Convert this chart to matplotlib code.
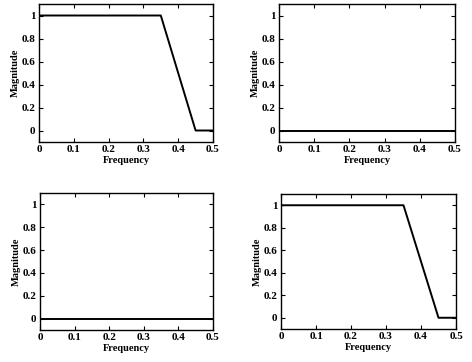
import matplotlib
matplotlib.use("Agg")
import matplotlib.pyplot as plt

# filter response panels: frequency breakpoints and magnitudes
freq = [0.0, 0.35, 0.45, 0.5]
mag_lowpass = [1.0, 1.0, 0.0, 0.0]
mag_zero = [0.0, 0.0, 0.0, 0.0]
panels = [mag_lowpass, mag_zero, mag_zero, mag_lowpass]

xticks = [0, 0.1, 0.2, 0.3, 0.4, 0.5]
xticklabels = ["0", "0.1", "0.2", "0.3", "0.4", "0.5"]
yticks = [0, 0.2, 0.4, 0.6, 0.8, 1]
yticklabels = ["0", "0.2", "0.4", "0.6", "0.8", "1"]

plt.rcParams["font.family"] = ["Liberation Serif", "DejaVu Serif"]
plt.rcParams["font.weight"] = "bold"

W, H = 472, 362
fig = plt.figure(figsize=(W / 100, H / 100), dpi=100)

# axes boxes in pixels: left, top, right, bottom
boxes = [(39, 4, 213, 142), (279, 4, 455, 142),
         (40, 193, 213, 330), (281, 194, 456, 329)]

for (l, t, r, b), mag in zip(boxes, panels):
    ax = fig.add_axes([l / W, 1 - b / H, (r - l) / W, (b - t) / H])
    ax.plot(freq, mag, color="black", linewidth=1.4)
    ax.set_xlim(0, 0.5)
    ax.set_ylim(-0.1, 1.1)
    ax.set_xticks(xticks)
    ax.set_xticklabels(xticklabels)
    ax.set_yticks(yticks)
    ax.set_yticklabels(yticklabels)
    ax.tick_params(direction="in", top=True, right=True, length=3, width=0.8,
                   labelsize=8, pad=2.5)
    for s in ax.spines.values():
        s.set_linewidth(1.0)
    ax.set_xlabel("Frequency", fontsize=7.5, fontweight="bold", labelpad=1)
    ax.set_ylabel("Magnitude", fontsize=7.5, fontweight="bold", labelpad=1)

fig.savefig("out.png", dpi=100)
